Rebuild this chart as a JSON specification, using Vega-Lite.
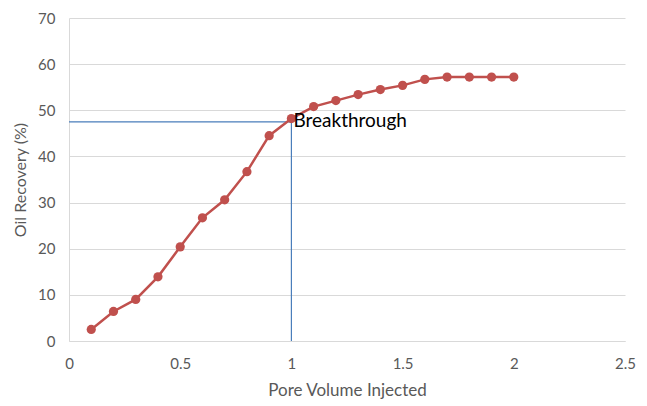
{
  "$schema": "https://vega.github.io/schema/vega-lite/v6.json",
  "width": 556,
  "height": 323,
  "autosize": {"type": "none"},
  "padding": {"left": 69, "top": 18, "right": 22, "bottom": 65},
  "background": "white",
  "config": {
    "view": {"stroke": null},
    "font": "Lato",
    "axis": {"labelFont": "Lato", "titleFont": "Lato", "labelColor": "#595959", "titleColor": "#595959", "labelFontSize": 15, "titleFontSize": 17, "titleFontWeight": "normal", "ticks": false, "domainColor": "#d9d9d9", "gridColor": "#d9d9d9", "labelFlush": false}
  },
  "datasets": {
    "curve": [
      {"pv": 0.1, "rec": 2.5},
      {"pv": 0.2, "rec": 6.4},
      {"pv": 0.3, "rec": 9.0},
      {"pv": 0.4, "rec": 13.9},
      {"pv": 0.5, "rec": 20.4},
      {"pv": 0.6, "rec": 26.7},
      {"pv": 0.7, "rec": 30.6},
      {"pv": 0.8, "rec": 36.7},
      {"pv": 0.9, "rec": 44.5},
      {"pv": 1.0, "rec": 48.2},
      {"pv": 1.1, "rec": 50.8},
      {"pv": 1.2, "rec": 52.1},
      {"pv": 1.3, "rec": 53.4},
      {"pv": 1.4, "rec": 54.5},
      {"pv": 1.5, "rec": 55.4},
      {"pv": 1.6, "rec": 56.7},
      {"pv": 1.7, "rec": 57.2},
      {"pv": 1.8, "rec": 57.2},
      {"pv": 1.9, "rec": 57.2},
      {"pv": 2.0, "rec": 57.2}
    ],
    "guide": [
      {"order": 1, "pv": 0, "rec": 47.5},
      {"order": 2, "pv": 1, "rec": 47.5},
      {"order": 3, "pv": 1, "rec": 0}
    ],
    "label": [
      {"pv": 1.0, "rec": 47.6, "text": "Breakthrough"}
    ]
  },
  "layer": [
    {
      "data": {"name": "guide"},
      "mark": {"type": "line", "color": "#4a7ebb", "strokeWidth": 1.2},
      "encoding": {
        "x": {"field": "pv", "type": "quantitative", "scale": {"domain": [0, 2.5], "nice": false}, "axis": {"title": "Pore Volume Injected", "values": [0, 0.5, 1, 1.5, 2, 2.5], "grid": false, "labelPadding": 15, "titlePadding": 11, "format": "~g"}},
        "y": {"field": "rec", "type": "quantitative", "scale": {"domain": [0, 70], "nice": false}, "axis": {"title": "Oil Recovery (%)", "titleFontSize": 16, "values": [0, 10, 20, 30, 40, 50, 60, 70], "grid": true, "labelPadding": 14, "titlePadding": 9}},
        "order": {"field": "order"}
      }
    },
    {
      "data": {"name": "curve"},
      "mark": {"type": "line", "color": "#c0504d", "strokeWidth": 2.5, "point": {"filled": true, "size": 85, "color": "#c0504d", "opacity": 1}},
      "encoding": {
        "x": {"field": "pv", "type": "quantitative"},
        "y": {"field": "rec", "type": "quantitative"}
      }
    },
    {
      "data": {"name": "label"},
      "mark": {"type": "text", "align": "left", "baseline": "middle", "dx": 2, "fontSize": 19, "color": "#000000", "font": "Lato"},
      "encoding": {
        "x": {"field": "pv", "type": "quantitative"},
        "y": {"field": "rec", "type": "quantitative"},
        "text": {"field": "text"}
      }
    }
  ]
}
